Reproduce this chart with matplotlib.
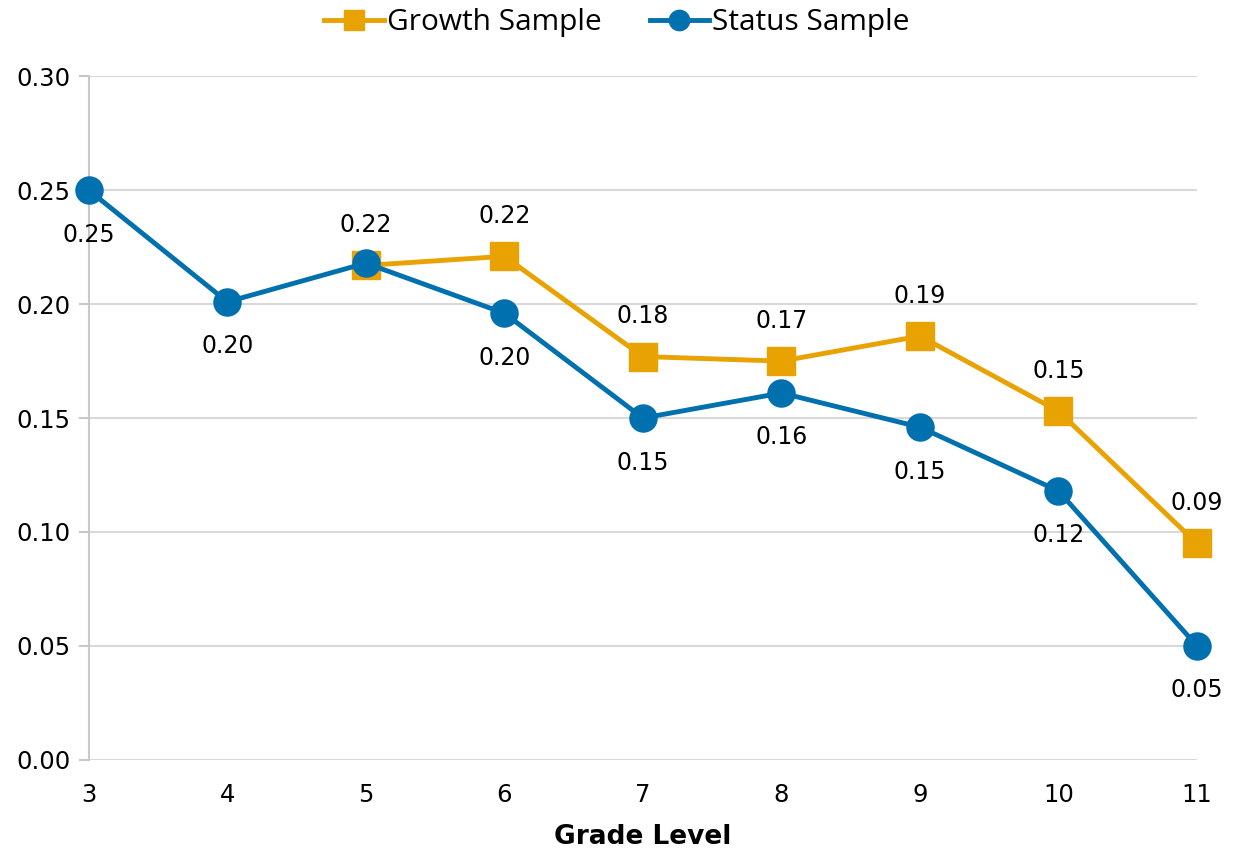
import matplotlib.pyplot as plt

plt.rcParams['font.family'] = ['DejaVu Sans']

# Data
grades = [3, 4, 5, 6, 7, 8, 9, 10, 11]
growth_grades = [5, 6, 7, 8, 9, 10, 11]
growth = [0.217, 0.221, 0.177, 0.175, 0.186, 0.153, 0.095]
status = [0.250, 0.201, 0.218, 0.196, 0.150, 0.161, 0.146, 0.118, 0.050]
growth_labels = ['0.22', '0.22', '0.18', '0.17', '0.19', '0.15', '0.09']
status_labels = ['0.25', '0.20', '', '0.20', '0.15', '0.16', '0.15', '0.12', '0.05']

orange = '#E8A202'
blue = '#0070AF'

fig = plt.figure(figsize=(12.34, 8.48), dpi=100)
ax = fig.add_axes([0.072, 0.104, 0.898, 0.806])

ax.plot(growth_grades, growth, color=orange, lw=3.5, marker='s', ms=20,
        label='Growth Sample', zorder=3, clip_on=False)
ax.plot(grades, status, color=blue, lw=3.5, marker='o', ms=19.5,
        label='Status Sample', zorder=4, clip_on=False)

for g, v, t in zip(growth_grades, growth, growth_labels):
    ax.annotate(t, (g, v), xytext=(0, 29), textcoords='offset points',
                ha='center', va='center', fontsize=17)
for g, v, t in zip(grades, status, status_labels):
    if t:
        ax.annotate(t, (g, v), xytext=(0, -32), textcoords='offset points',
                    ha='center', va='center', fontsize=17)

ax.set_xlim(3, 11)
ax.set_ylim(0, 0.30)
ax.set_xticks(grades)
ax.set_yticks([0, 0.05, 0.10, 0.15, 0.20, 0.25, 0.30])
ax.set_yticklabels(['0.00', '0.05', '0.10', '0.15', '0.20', '0.25', '0.30'])
ax.tick_params(axis='y', length=7, color='#C8C8C8', width=1.5, labelsize=17.5, pad=6)
ax.tick_params(axis='x', length=0, labelsize=17.5, pad=17)

ax.grid(axis='y', color='#D9D9D9', lw=1.5)
ax.set_axisbelow(True)
for s in ['top', 'right', 'bottom']:
    ax.spines[s].set_visible(False)
ax.spines['left'].set_color('#C8C8C8')
ax.spines['left'].set_linewidth(1.5)

ax.set_xlabel('Grade Level', fontsize=19, fontweight='bold', labelpad=12)

fig.legend(loc='upper center', bbox_to_anchor=(0.5, 1.022), ncol=2, frameon=False,
           prop={'family': 'Open Sans', 'size': 21.5}, handlelength=2.0,
           handletextpad=0.1, columnspacing=1.6, markerscale=0.75)

fig.savefig('out.png', dpi=100)
